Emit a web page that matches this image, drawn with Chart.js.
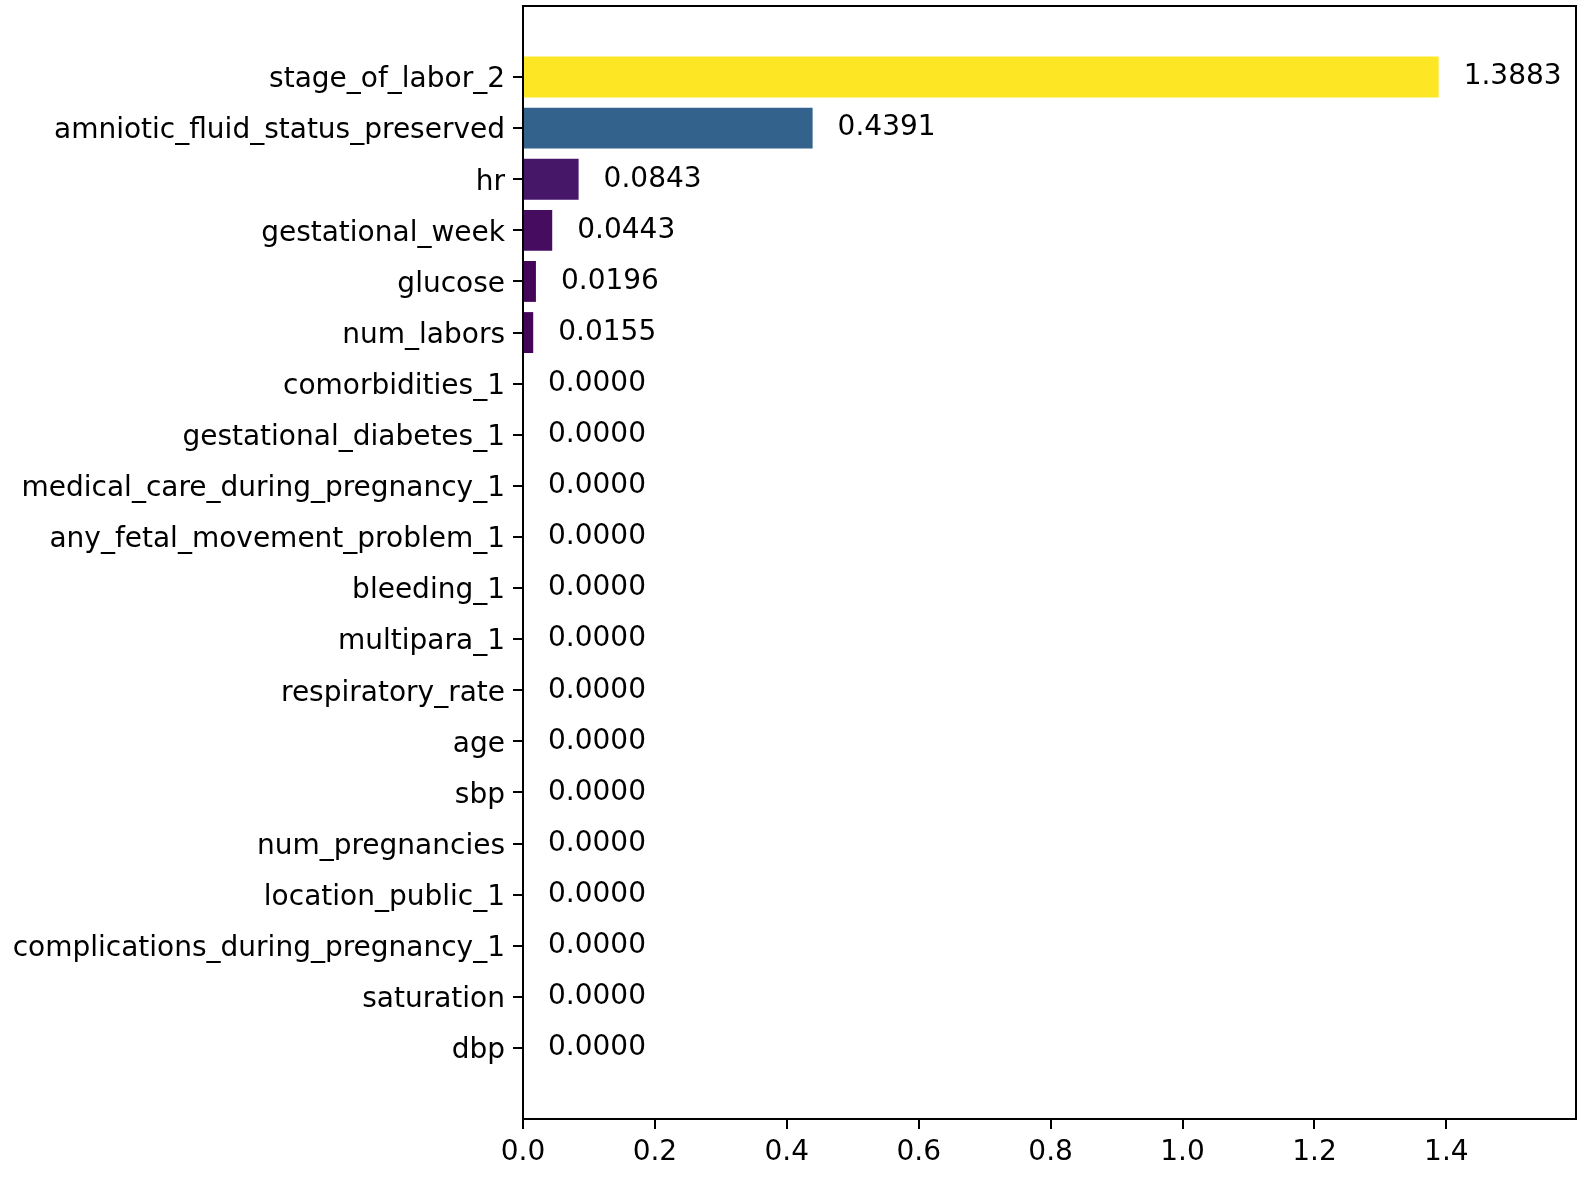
<!DOCTYPE html>
<html>
<head>
<meta charset="utf-8">
<script src="https://cdn.jsdelivr.net/npm/chart.js@4/dist/chart.umd.min.js"></script>
<style>
  body { margin: 0; background: #fff; }
  canvas { display: block; }
</style>
</head>
<body>
<canvas id="chart" width="1583" height="1185"></canvas>
<script>
const features = [
    'stage_of_labor_2', 'amniotic_fluid_status_preserved', 'hr', 'gestational_week',
    'glucose', 'num_labors', 'comorbidities_1', 'gestational_diabetes_1',
    'medical_care_during_pregnancy_1', 'any_fetal_movement_problem_1', 'bleeding_1',
    'multipara_1', 'respiratory_rate', 'age', 'sbp', 'num_pregnancies',
    'location_public_1', 'complications_during_pregnancy_1', 'saturation', 'dbp'
];
const importance = [
    1.3883, 0.4391, 0.0843, 0.0443, 0.0196, 0.0155, 0, 0, 0, 0,
    0, 0, 0, 0, 0, 0, 0, 0, 0, 0
];
const xTicks = [0, 0.2, 0.4, 0.6, 0.8, 1.0, 1.2, 1.4];

// matplotlib viridis, sampled every 0.1
const viridis = ['#440154', '#482475', '#414487', '#355f8d', '#2a788e', '#21918c',
    '#22a884', '#44bf70', '#7ad151', '#bddf26', '#fde725'];

function viridisAt(t) {
    const pos = Math.min(Math.max(t, 0), 1) * 10;
    const i = Math.min(Math.floor(pos), 9);
    const f = pos - i;
    const a = viridis[i], b = viridis[i + 1];
    const c = k => Math.round(parseInt(a.substr(k, 2), 16) * (1 - f) + parseInt(b.substr(k, 2), 16) * f);
    return `rgb(${c(1)}, ${c(3)}, ${c(5)})`;
}

const maxVal = Math.max(...importance);
const barColors = importance.map(v => viridisAt(v / maxVal));
const FONT = '"DejaVu Sans", sans-serif';
const SIZE = 28;

const frame = {
    id: 'frame',
    afterDraw(chart) {
        const { ctx, chartArea: a } = chart;
        ctx.save();
        ctx.strokeStyle = '#000';
        ctx.lineWidth = 2;
        ctx.strokeRect(a.left, a.top, a.right - a.left, a.bottom - a.top);
        ctx.restore();
    }
};

const valueLabels = {
    id: 'valueLabels',
    afterDatasetsDraw(chart) {
        const { ctx } = chart;
        const xs = chart.scales.x, ys = chart.scales.y;
        ctx.save();
        ctx.font = SIZE + 'px ' + FONT;
        ctx.fillStyle = '#000';
        ctx.textAlign = 'left';
        ctx.textBaseline = 'middle';
        importance.forEach((v, i) => {
            ctx.fillText(v.toFixed(4), xs.getPixelForValue(v) + 25, ys.getPixelForValue(i));
        });
        ctx.restore();
    }
};

new Chart(document.getElementById('chart'), {
    type: 'bar',
    data: {
        datasets: [{
            data: features.map((f, i) => ({ x: importance[i], y: i })),
            backgroundColor: barColors,
            borderWidth: 0,
            barPercentage: 0.8,
            categoryPercentage: 1.0
        }]
    },
    options: {
        indexAxis: 'y',
        responsive: false,
        animation: false,
        layout: { padding: { top: 6, right: 7, left: 0, bottom: 0 } },
        plugins: { legend: { display: false }, tooltip: { enabled: false } },
        scales: {
            x: {
                type: 'linear',
                min: 0,
                max: maxVal * 1.15,
                afterBuildTicks: axis => { axis.ticks = xTicks.map(v => ({ value: v })); },
                afterFit: axis => { axis.height = 66; axis.paddingLeft = 0; },
                grid: { drawOnChartArea: false, offset: false, color: '#000', lineWidth: 2, tickLength: 10 },
                border: { color: '#000', width: 2 },
                ticks: {
                    color: '#000',
                    font: { family: FONT, size: SIZE },
                    padding: 7,
                    maxRotation: 0,
                    callback: v => v.toFixed(1)
                }
            },
            y: {
                type: 'linear',
                reverse: true,
                offset: false,
                min: -1.39,
                max: features.length - 1 + 1.39,
                afterBuildTicks: axis => { axis.ticks = features.map((f, i) => ({ value: i })); },
                afterFit: axis => { axis.width = 523; axis.paddingTop = 0; axis.paddingBottom = 0; },
                grid: { drawOnChartArea: false, offset: false, color: '#000', lineWidth: 2, tickLength: 10 },
                border: { color: '#000', width: 2 },
                ticks: {
                    color: '#000',
                    font: { family: FONT, size: SIZE },
                    padding: 8,
                    labelOffset: 3,
                    autoSkip: false,
                    callback: v => features[v]
                }
            }
        }
    },
    plugins: [frame, valueLabels]
});
</script>
</body>
</html>
